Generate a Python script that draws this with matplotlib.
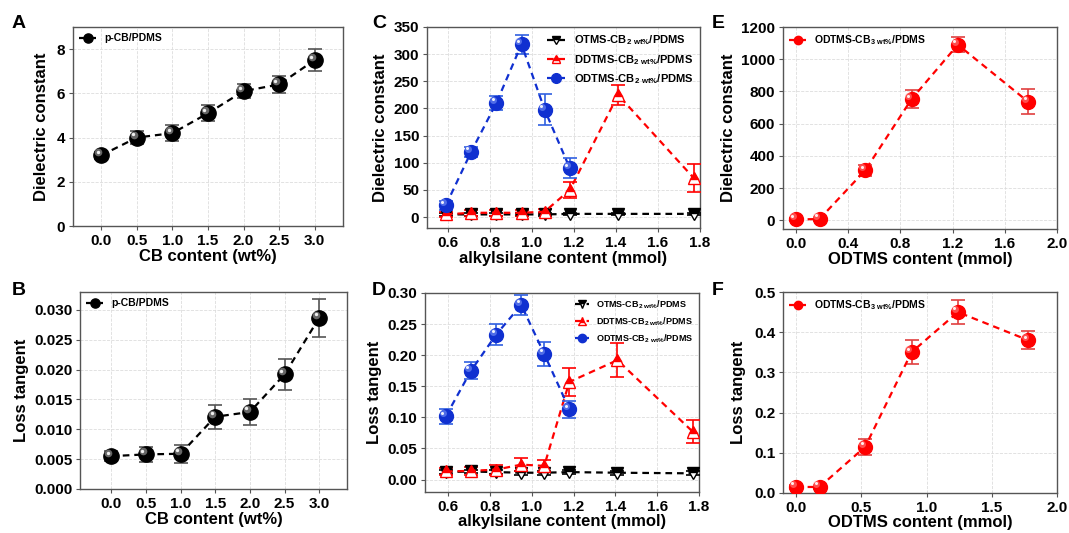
import matplotlib
matplotlib.use("Agg")
import matplotlib.pyplot as plt
import matplotlib.transforms as mtrans
import numpy as np

plt.rcParams['font.family'] = ['Liberation Sans', 'DejaVu Sans']
plt.rcParams['font.weight'] = 'bold'
plt.rcParams['axes.labelweight'] = 'bold'
plt.rcParams['mathtext.fontset'] = 'custom'
plt.rcParams['mathtext.rm'] = 'Liberation Sans:bold'
plt.rcParams['mathtext.bf'] = 'Liberation Sans:bold'

# ---- data ----
cb_content = [0.0, 0.5, 1.0, 1.5, 2.0, 2.5, 3.0]
a_dielectric = [3.2, 4.0, 4.2, 5.1, 6.1, 6.4, 7.5]
a_err = [0.15, 0.3, 0.35, 0.35, 0.3, 0.4, 0.5]
b_loss = [0.0055, 0.0058, 0.0059, 0.0121, 0.0129, 0.0192, 0.0287]
b_err = [0.0008, 0.0013, 0.0015, 0.0020, 0.0022, 0.0026, 0.0032]

alkyl_x = [0.59, 0.71, 0.83, 0.95, 1.06, 1.18, 1.41, 1.77]
odtms_x = [0.59, 0.71, 0.83, 0.95, 1.06, 1.18]
c_otms = [5, 5, 5, 5, 5, 6, 6, 6]
c_otms_err = [2, 2, 2, 2, 2, 2, 2, 2]
c_ddtms = [5, 8, 8, 8, 10, 50, 225, 72]
c_ddtms_err = [5, 5, 5, 5, 5, 15, 18, 25]
c_odtms = [22, 120, 210, 318, 198, 90]
c_odtms_err = [8, 10, 13, 18, 28, 18]

d_otms = [0.012, 0.013, 0.012, 0.011, 0.011, 0.012, 0.011, 0.010]
d_otms_err = [0.003] * 8
d_ddtms = [0.013, 0.014, 0.016, 0.024, 0.022, 0.157, 0.192, 0.077]
d_ddtms_err = [0.005, 0.006, 0.008, 0.010, 0.010, 0.022, 0.027, 0.018]
d_odtms = [0.102, 0.175, 0.233, 0.281, 0.202, 0.113]
d_odtms_err = [0.012, 0.014, 0.017, 0.016, 0.020, 0.014]

odtms_content = [0.0, 0.18, 0.53, 0.885, 1.24, 1.78]
e_dielectric = [5, 8, 310, 752, 1090, 735]
e_err = [10, 10, 35, 55, 45, 78]
f_loss = [0.015, 0.015, 0.115, 0.35, 0.45, 0.38]
f_err = [0.005, 0.005, 0.02, 0.03, 0.03, 0.022]

lab_otms = r"OTMS-CB$_{\mathbf{2\ wt\%}}$/PDMS"
lab_ddtms = r"DDTMS-CB$_{\mathbf{2\ wt\%}}$/PDMS"
lab_odtms = r"ODTMS-CB$_{\mathbf{2\ wt\%}}$/PDMS"
lab_odtms3 = r"ODTMS-CB$_{\mathbf{3\ wt\%}}$/PDMS"

W, H = 1069, 533
fig = plt.figure(figsize=(W / 100, H / 100), dpi=100)


def add_ax(l, t, r, b):
    return fig.add_axes([l / W, (H - b) / H, (r - l) / W, (b - t) / H])


def style(ax):
    ax.grid(True, color='#dddddd', linestyle='--', linewidth=0.6)
    ax.set_axisbelow(True)
    for s in ax.spines.values():
        s.set_color('#555555')
        s.set_linewidth(1.0)
    ax.tick_params(labelsize=11, length=3, width=0.8, color='#555555', pad=2.5)
    for lbl in ax.get_xticklabels() + ax.get_yticklabels():
        lbl.set_fontweight('bold')


def sphere(ax, x, y, yerr, color, ecolor, hl, ms, label, zo=3):
    ax.errorbar(x, y, yerr=yerr, fmt='none', ecolor=ecolor, elinewidth=1.2,
                capsize=5, capthick=1.2, zorder=zo)
    ax.plot(x, y, linestyle='--', dashes=(3, 2.2), color=color, linewidth=1.6,
            marker='o', markersize=ms, markerfacecolor=color,
            markeredgecolor=color, label=label, zorder=zo + 1)
    # specular highlight to mimic sphere shading
    off = mtrans.offset_copy(ax.transData, fig=fig, x=-2.2, y=2.2, units='points')
    ax.plot(x, y, linestyle='none', marker='o', markersize=ms * 0.5,
            markerfacecolor=hl, markeredgecolor='none', alpha=0.5,
            zorder=zo + 2, transform=off)
    off2 = mtrans.offset_copy(ax.transData, fig=fig, x=-2.6, y=2.6, units='points')
    ax.plot(x, y, linestyle='none', marker='o', markersize=ms * 0.22,
            markerfacecolor='white', markeredgecolor='none', alpha=0.9,
            zorder=zo + 3, transform=off2)


def tri(ax, x, y, yerr, color, marker, ms, label, zo=3):
    ax.errorbar(x, y, yerr=yerr, fmt='none', ecolor=color, elinewidth=1.2,
                capsize=5, capthick=1.2, zorder=zo)
    ax.plot(x, y, linestyle='--', dashes=(3, 2.2), color=color, linewidth=1.6,
            marker=marker, markersize=ms, fillstyle='top',
            markerfacecolor=color, markerfacecoloralt='white',
            markeredgecolor=color, label=label, zorder=zo + 1)


# ---- A ----
axA = add_ax(73, 27, 343, 226)
sphere(axA, cb_content, a_dielectric, a_err, 'black', '#555555', '#cccccc', 11, 'p-CB/PDMS')
axA.set_xlim(-0.4, 3.4)
axA.set_ylim(0, 9)
axA.set_xticks(cb_content)
axA.set_yticks([0, 2, 4, 6, 8])
axA.set_xlabel('CB content (wt%)', fontsize=12, labelpad=1)
axA.set_ylabel('Dielectric constant', fontsize=12, labelpad=6)
style(axA)
axA.legend(loc='upper left', frameon=False, handlelength=1.6,
           borderaxespad=0.2, markerscale=0.6, prop={'weight': 'bold', 'size': 7.5})

# ---- B ----
axB = add_ax(80, 292, 347, 489)
sphere(axB, cb_content, b_loss, b_err, 'black', '#555555', '#cccccc', 11, 'p-CB/PDMS')
axB.set_xlim(-0.45, 3.4)
axB.set_ylim(0, 0.033)
axB.set_xticks(cb_content)
axB.set_yticks([0, 0.005, 0.010, 0.015, 0.020, 0.025, 0.030])
axB.set_yticklabels(['0.000', '0.005', '0.010', '0.015', '0.020', '0.025', '0.030'])
axB.set_xlabel('CB content (wt%)', fontsize=12, labelpad=1)
axB.set_ylabel('Loss tangent', fontsize=12, labelpad=4)
style(axB)
axB.legend(loc='upper left', frameon=False, handlelength=1.6,
           borderaxespad=0.2, markerscale=0.6, prop={'weight': 'bold', 'size': 7.5})

# ---- C ----
axC = add_ax(427, 27, 700, 228)
tri(axC, alkyl_x, c_otms, c_otms_err, 'black', 'v', 9, lab_otms)
tri(axC, alkyl_x, c_ddtms, c_ddtms_err, 'red', '^', 9, lab_ddtms)
sphere(axC, odtms_x, c_odtms, c_odtms_err, '#1030d0', '#3060e0', '#8fa8ff', 10, lab_odtms, zo=5)
axC.set_xlim(0.5, 1.8)
axC.set_ylim(-20, 350)
axC.set_xticks([0.6, 0.8, 1.0, 1.2, 1.4, 1.6, 1.8])
axC.set_yticks(range(0, 351, 50))
axC.set_xlabel('alkylsilane content (mmol)', fontsize=12, labelpad=1)
axC.set_ylabel('Dielectric constant', fontsize=12, labelpad=4)
style(axC)
axC.legend(loc='upper right', frameon=False, handlelength=1.6,
           borderaxespad=0.2, markerscale=0.7, labelspacing=0.5,
           prop={'weight': 'bold', 'size': 8})

# ---- D ----
axD = add_ax(425, 293, 699, 492)
tri(axD, alkyl_x, d_otms, d_otms_err, 'black', 'v', 9, lab_otms)
tri(axD, alkyl_x, d_ddtms, d_ddtms_err, 'red', '^', 9, lab_ddtms)
sphere(axD, odtms_x, d_odtms, d_odtms_err, '#1030d0', '#3060e0', '#8fa8ff', 10, lab_odtms, zo=5)
axD.set_xlim(0.49, 1.8)
axD.set_ylim(-0.02, 0.30)
axD.set_xticks([0.6, 0.8, 1.0, 1.2, 1.4, 1.6, 1.8])
axD.set_yticks([0, 0.05, 0.10, 0.15, 0.20, 0.25, 0.30])
axD.set_yticklabels(['0.00', '0.05', '0.10', '0.15', '0.20', '0.25', '0.30'])
axD.set_xlabel('alkylsilane content (mmol)', fontsize=12, labelpad=0)
axD.set_ylabel('Loss tangent', fontsize=12, labelpad=4)
style(axD)
axD.legend(loc='upper right', frameon=False, handlelength=1.6,
           borderaxespad=0.2, markerscale=0.6, labelspacing=0.5,
           prop={'weight': 'bold', 'size': 6.5})

# ---- E ----
axE = add_ax(783, 27, 1057, 229)
sphere(axE, odtms_content, e_dielectric, e_err, 'red', '#e04040', '#ff9a9a', 10, lab_odtms3)
axE.set_xlim(-0.1, 2.0)
axE.set_ylim(-54, 1200)
axE.set_xticks([0.0, 0.4, 0.8, 1.2, 1.6, 2.0])
axE.set_yticks(range(0, 1201, 200))
axE.set_xlabel('ODTMS content (mmol)', fontsize=12, labelpad=1)
axE.set_ylabel('Dielectric constant', fontsize=12, labelpad=4)
style(axE)
axE.legend(loc='upper left', frameon=False, handlelength=1.6,
           borderaxespad=0.2, markerscale=0.6, prop={'weight': 'bold', 'size': 7.5})

# ---- F ----
axF = add_ax(783, 292, 1057, 493)
sphere(axF, odtms_content, f_loss, f_err, 'red', '#e04040', '#ff9a9a', 10, lab_odtms3)
axF.set_xlim(-0.1, 2.0)
axF.set_ylim(0, 0.5)
axF.set_xticks([0.0, 0.5, 1.0, 1.5, 2.0])
axF.set_yticks([0, 0.1, 0.2, 0.3, 0.4, 0.5])
axF.set_xlabel('ODTMS content (mmol)', fontsize=12, labelpad=0)
axF.set_ylabel('Loss tangent', fontsize=12, labelpad=6)
style(axF)
axF.legend(loc='upper left', frameon=False, handlelength=1.6,
           borderaxespad=0.2, markerscale=0.6, prop={'weight': 'bold', 'size': 7.5})

# panel letters
for letter, (px, py) in {'A': (12, 28), 'B': (12, 295), 'C': (372, 28),
                         'D': (372, 295), 'E': (712, 28), 'F': (712, 295)}.items():
    fig.text(px / W, (H - py) / H, letter, fontsize=14, fontweight='bold')

fig.savefig('out.png', dpi=100)
